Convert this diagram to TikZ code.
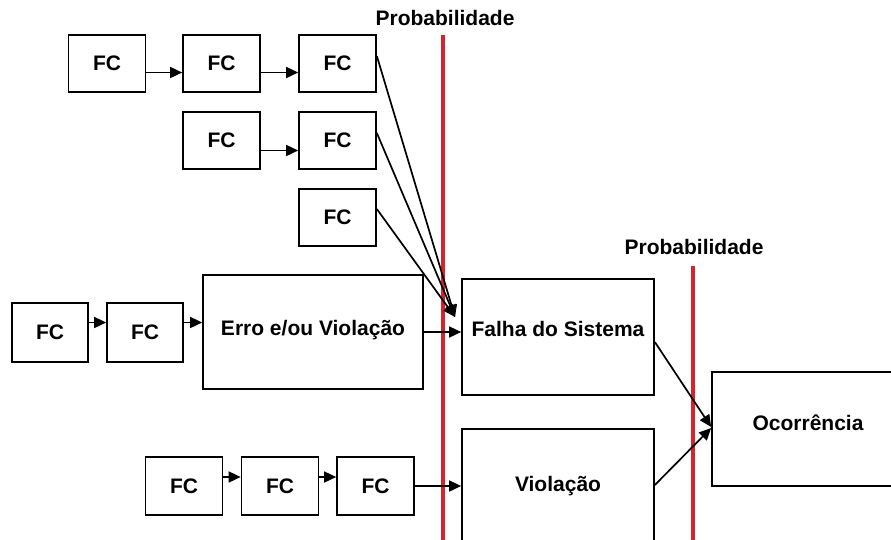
\documentclass[tikz,border=0pt]{standalone}
\usepackage{fontspec}
\setmainfont{Liberation Sans}
\usetikzlibrary{arrows.meta,positioning}
\definecolor{probRed}{RGB}{214,36,46}

\tikzset{
  fcbox/.style={draw,line width=1.7pt,minimum width=77pt,minimum height=57pt,
    inner sep=0pt,font=\bfseries\fontsize{21}{25}\selectfont},
  bigbox/.style={fcbox,minimum width=192pt,minimum height=116pt},
  textup/.style={text height=16pt,text depth=#1},
  arr/.style={line width=1.7pt,-{Triangle[length=12pt,width=11pt]}},
  probline/.style={probRed,line width=3.5pt},
  problabel/.style={font=\bfseries\fontsize{21}{25}\selectfont}
}

\begin{document}
\begin{tikzpicture}[x=1pt,y=-1pt]
  \useasboundingbox (0,0) rectangle (891,539);
  \clip (0,0) rectangle (891,539);

  % probability barriers
  \node[problabel] (prob1) at (445,18) {Probabilidade};
  \node[problabel] (prob2) at (694,247) {Probabilidade};
  \draw[probline] (443,35) -- (443,545);
  \draw[probline] (693,266) -- (693,545);

  % contributing factors
  \node[fcbox] (fc1a) at (107,63.5) {FC};
  \node[fcbox] (fc1b) at (221.5,63.5) {FC};
  \node[fcbox] (fc1c) at (337.5,63.5) {FC};
  \node[fcbox] (fc2a) at (221.5,140.5) {FC};
  \node[fcbox] (fc2b) at (337.5,140.5) {FC};
  \node[fcbox] (fc3) at (337.5,217.5) {FC};
  \node[fcbox,minimum width=76pt,minimum height=59pt] (fc4a) at (50,332.5) {FC};
  \node[fcbox,minimum width=76pt,minimum height=59pt] (fc4b) at (145,332.5) {FC};
  \node[fcbox,minimum height=58pt] (fc5a) at (184,486) {FC};
  \node[fcbox,minimum height=58pt] (fc5b) at (280,486) {FC};
  \node[fcbox,minimum height=58pt] (fc5c) at (375.5,486) {FC};

  % events
  \node[bigbox,textup=9pt,minimum width=220pt,minimum height=114pt] (erro) at (313,332) {Erro e/ou Violação};
  \node[bigbox,textup=17pt] (falha) at (558,337) {Falha do Sistema};
  \node[bigbox,textup=7pt] (viol) at (558,487) {Violação};
  \node[bigbox,textup=13pt,minimum height=114pt] (ocorr) at (808,429) {Ocorrência};
  \coordinate (meet) at (455,317);

  % chains
  \draw[arr] ([yshift=-9pt]fc1a.east) -- ([yshift=-9pt]fc1b.west);
  \draw[arr] ([yshift=-9pt]fc1b.east) -- ([yshift=-9pt]fc1c.west);
  \draw[arr] ([yshift=-10pt]fc2a.east) -- ([yshift=-10pt]fc2b.west);
  \draw[arr] ([yshift=10pt]fc4a.east) -- ([yshift=10pt]fc4b.west);
  \draw[arr] ([yshift=10pt]fc4b.east) -- ([yshift=10pt]fc4b.east -| erro.west);
  \draw[arr] ([yshift=9pt]fc5a.east) -- ([yshift=9pt]fc5b.west);
  \draw[arr] ([yshift=9pt]fc5b.east) -- ([yshift=9pt]fc5c.west);

  % towards the system failure
  \draw[arr] ([yshift=7.5pt]fc1c.east) -- (meet);
  \draw[arr] ([yshift=7.5pt]fc2b.east) -- (meet);
  \draw[arr] ([yshift=8.5pt]fc3.east) -- (meet);
  \draw[arr] (erro.east) -- (erro.east -| falha.west);
  \draw[arr] (fc5c.east) -- (fc5c.east -| viol.west);

  % towards the occurrence
  \draw[arr] ([yshift=-5pt]falha.east) -- ([yshift=2pt]ocorr.west);
  \draw[arr] ([yshift=2pt]viol.east) -- ([yshift=1pt]ocorr.west);
\end{tikzpicture}
\end{document}
